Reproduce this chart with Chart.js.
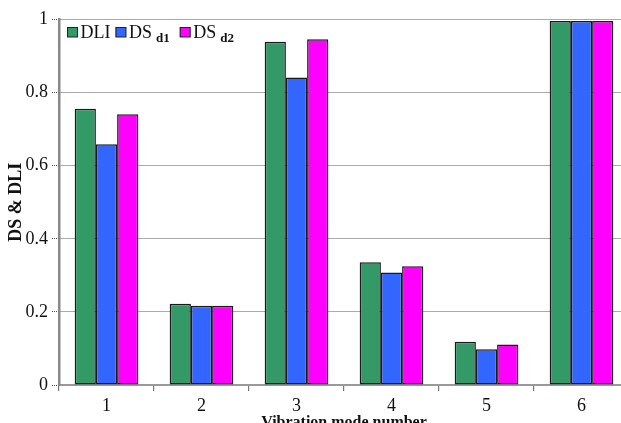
<!DOCTYPE html>
<html>
<head>
<meta charset="utf-8">
<script src="https://cdn.jsdelivr.net/npm/chart.js@4/dist/chart.umd.min.js"></script>
<style>
  html, body { margin: 0; padding: 0; background: #fff; overflow: hidden; }
  #wrap { width: 632px; height: 432px; }
</style>
</head>
<body>
<div id="wrap"><canvas id="c" width="632" height="432"></canvas></div>
<script>
// Vibration modes and damage indices per mode
const modes = ['1', '2', '3', '4', '5', '6'];
const dli  = [0.756, 0.222, 0.939, 0.336, 0.118, 0.996];
const dsD1 = [0.659, 0.217, 0.841, 0.308, 0.098, 0.996];
const dsD2 = [0.741, 0.217, 0.946, 0.325, 0.111, 0.996];
const yTickLabels = ['0', '0.2', '0.4', '0.6', '0.8', '1'];

// Legend entries: main text plus an optional bold subscript
const legendItems = [
  { main: 'DLI', sub: '' },
  { main: 'DS', sub: 'd1' },
  { main: 'DS', sub: 'd2' }
];

const SERIF = "'Liberation Serif', 'Times New Roman', serif";

const legendPlugin = {
  id: 'subLegend',
  afterDraw(chart) {
    const ctx = chart.ctx;
    const sets = chart.data.datasets;
    let x = 67, y = 27;
    ctx.save();
    legendItems.forEach((it, i) => {
      ctx.fillStyle = sets[i].backgroundColor;
      ctx.fillRect(x, y, 10.5, 10);
      ctx.strokeStyle = '#222';
      ctx.lineWidth = 1;
      ctx.strokeRect(x + 0.5, y + 0.5, 10, 9.5);
      x += 13.5;
      ctx.fillStyle = '#111';
      ctx.textBaseline = 'alphabetic';
      ctx.font = '18px ' + SERIF;
      ctx.fillText(it.main, x, 38);
      x += ctx.measureText(it.main).width;
      if (it.sub) {
        x += 4;
        ctx.font = 'bold 13px ' + SERIF;
        ctx.fillText(it.sub, x, 42);
        x += ctx.measureText(it.sub).width;
        x += 10;
      } else {
        x += 5;
      }
    });
    ctx.restore();
  }
};

const barStyle = { borderColor: '#1a1a1a', borderWidth: 1.5, borderSkipped: false };

new Chart(document.getElementById('c'), {
  type: 'bar',
  data: {
    labels: modes,
    datasets: [
      Object.assign({ label: 'DLI', data: dli, backgroundColor: '#339966' }, barStyle),
      Object.assign({ label: 'DS d1', data: dsD1, backgroundColor: '#3366FF' }, barStyle),
      Object.assign({ label: 'DS d2', data: dsD2, backgroundColor: '#FF00FF' }, barStyle)
    ]
  },
  options: {
    responsive: false,
    animation: false,
    devicePixelRatio: 1,
    layout: { padding: { top: 19.5, right: 3, left: 0, bottom: 0 } },
    datasets: { bar: { categoryPercentage: 0.67, barPercentage: 1 } },
    plugins: { legend: { display: false }, tooltip: { enabled: false } },
    scales: {
      x: {
        afterFit(s) { s.height = 47; },
        grid: {
          offset: true,
          drawOnChartArea: false,
          drawTicks: true,
          tickLength: 6,
          color: '#777',
          lineWidth: 1.2
        },
        border: { display: true, color: '#999', width: 2 },
        ticks: {
          color: '#111',
          padding: 4,
          font: { family: SERIF, size: 18 }
        },
        title: {
          display: true,
          text: 'Vibration mode number',
          color: '#111',
          padding: { top: 0, bottom: 0 },
          font: { family: SERIF, size: 16, weight: 'bold' }
        }
      },
      y: {
        min: 0,
        max: 1,
        afterFit(s) { s.width = 59; },
        ticks: {
          stepSize: 0.2,
          color: '#111',
          padding: 4,
          font: { family: SERIF, size: 18 },
          callback: (v, i) => yTickLabels[i]
        },
        grid: {
          color: '#555',
          lineWidth: 1,
          tickBorderDash: [1, 1],
          tickLength: 7
        },
        border: { display: true, color: '#888', width: 2.5, dash: [1, 1] },
        title: {
          display: true,
          text: 'DS & DLI',
          color: '#111',
          padding: { top: 6, bottom: 0 },
          font: { family: SERIF, size: 18, weight: 'bold' }
        }
      }
    }
  },
  plugins: [legendPlugin]
});
</script>
</body>
</html>
